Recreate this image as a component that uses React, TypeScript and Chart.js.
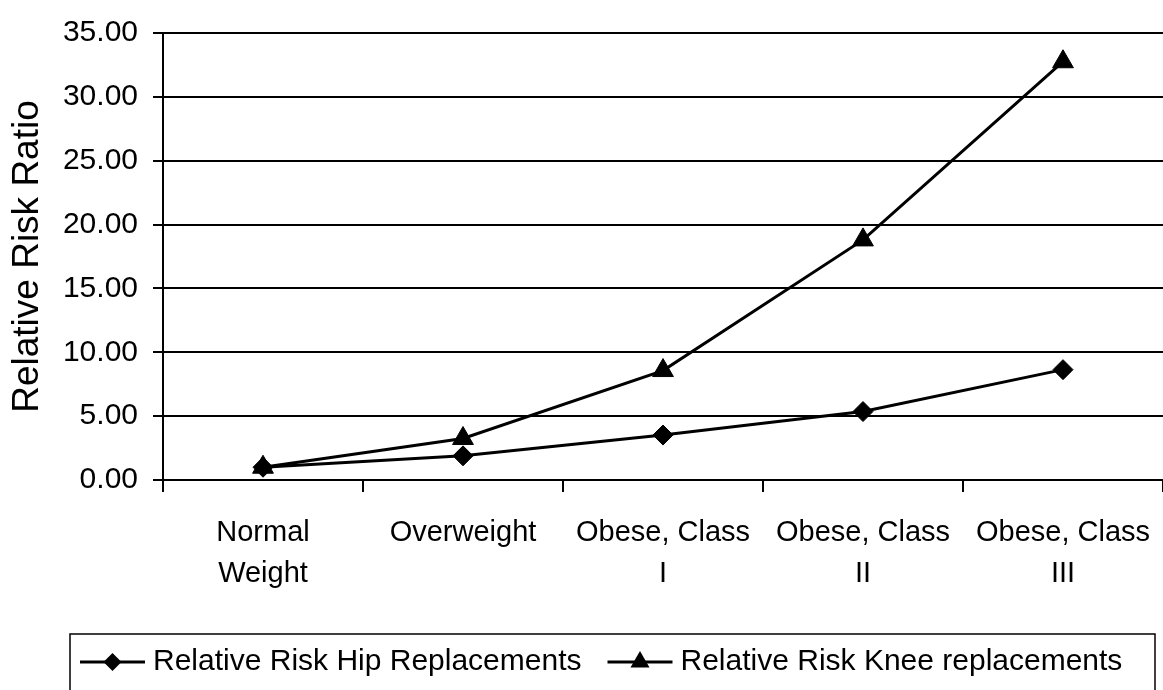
import React, { useEffect, useRef } from 'react';
import { Chart, registerables } from 'chart.js';

Chart.register(...registerables);

// Body-mass categories (multi-line tick labels)
const categories: string[][] = [
  ['Normal', 'Weight'],
  ['Overweight'],
  ['Obese, Class', 'I'],
  ['Obese, Class', 'II'],
  ['Obese, Class', 'III'],
];

const seriesNames = ['Relative Risk Hip Replacements', 'Relative Risk Knee replacements'];
const hipValues = [1.0, 1.89, 3.52, 5.36, 8.64];
const kneeValues = [1.0, 3.25, 8.57, 18.8, 32.75];

const yMin = 0;
const yMax = 35;
const yStep = 5;
const yTitle = 'Relative Risk Ratio';

const FONT = "'Liberation Sans', Arial, Helvetica, sans-serif";
const INK = '#000000';

function drawMarker(ctx: CanvasRenderingContext2D, style: string, x: number, y: number, r: number) {
  ctx.beginPath();
  if (style === 'triangle') {
    ctx.moveTo(x, y - r);
    ctx.lineTo(x + r * 0.866, y + r * 0.5);
    ctx.lineTo(x - r * 0.866, y + r * 0.5);
  } else {
    ctx.moveTo(x, y - r);
    ctx.lineTo(x + r, y);
    ctx.lineTo(x, y + r);
    ctx.lineTo(x - r, y);
  }
  ctx.closePath();
  ctx.fill();
}

// Boxed legend along the bottom edge: line + marker + label per series
const boxLegend = {
  id: 'boxLegend',
  afterDraw(chart: any) {
    const ctx: CanvasRenderingContext2D = chart.ctx;
    const top = chart.chartArea.bottom + 154;
    const left = 70;
    const right = 1155;
    const cy = top + 28;
    ctx.save();
    ctx.strokeStyle = INK;
    ctx.fillStyle = INK;
    ctx.lineWidth = 1.5;
    ctx.strokeRect(left, top, right - left, chart.height - top + 20);
    ctx.font = `30px ${FONT}`;
    ctx.textBaseline = 'middle';
    ctx.textAlign = 'left';
    let x = left + 10;
    chart.data.datasets.forEach((ds: any) => {
      ctx.lineWidth = 3;
      ctx.beginPath();
      ctx.moveTo(x, cy);
      ctx.lineTo(x + 65, cy);
      ctx.stroke();
      drawMarker(ctx, ds.pointStyle, x + 32.5, cy, ds.pointStyle === 'triangle' ? 11 : 9);
      x += 73;
      ctx.fillText(ds.label, x, cy);
      x += ctx.measureText(ds.label).width + 26;
    });
    ctx.restore();
  },
};

export default function App() {
  const canvasRef = useRef<HTMLCanvasElement | null>(null);

  useEffect(() => {
    if (!canvasRef.current) return;
    const chart = new Chart(canvasRef.current, {
      type: 'line',
      data: {
        labels: categories,
        datasets: [
          {
            label: seriesNames[0],
            data: hipValues,
            borderColor: INK,
            backgroundColor: INK,
            borderWidth: 3,
            pointStyle: 'rectRot',
            pointRadius: 10,
            pointBorderWidth: 1,
            tension: 0,
          },
          {
            label: seriesNames[1],
            data: kneeValues,
            borderColor: INK,
            backgroundColor: INK,
            borderWidth: 3,
            pointStyle: 'triangle',
            pointRadius: 12,
            pointBorderWidth: 1,
            tension: 0,
          },
        ],
      },
      options: {
        responsive: true,
        maintainAspectRatio: false,
        animation: false,
        layout: { autoPadding: false, padding: { top: 28, left: 0, right: 0, bottom: 80 } },
        plugins: {
          legend: { display: false },
          tooltip: { enabled: false },
        },
        scales: {
          x: {
            type: 'category',
            offset: true,
            afterFit: (scale: any) => {
              scale.height = 130;
              scale.paddingLeft = 0;
              scale.paddingRight = 0;
            },
            grid: {
              offset: true,
              drawOnChartArea: false,
              drawTicks: true,
              tickLength: 12,
              color: INK,
              lineWidth: 2,
            },
            border: { display: true, color: INK, width: 2 },
            ticks: {
              color: INK,
              autoSkip: false,
              maxRotation: 0,
              minRotation: 0,
              padding: 21,
              font: { family: FONT, size: 29, lineHeight: 1.4 },
            },
          },
          y: {
            min: yMin,
            max: yMax,
            afterFit: (scale: any) => {
              scale.width = 163;
            },
            grid: {
              color: INK,
              lineWidth: 2,
              tickLength: 10,
            },
            border: { display: true, color: INK, width: 2 },
            ticks: {
              stepSize: yStep,
              color: INK,
              padding: 15,
              font: { family: FONT, size: 30 },
              callback: (v: any) => Number(v).toFixed(2),
            },
            title: {
              display: true,
              text: yTitle,
              color: INK,
              padding: { top: 6, bottom: 0 },
              font: { family: FONT, size: 37, weight: 'normal' },
            },
          },
        },
      },
      plugins: [boxLegend],
    });
    return () => chart.destroy();
  }, []);

  return (
    <div style={{ position: 'absolute', left: 0, top: 0, width: 1163, height: 690, background: '#ffffff' }}>
      <canvas ref={canvasRef} />
    </div>
  );
}
